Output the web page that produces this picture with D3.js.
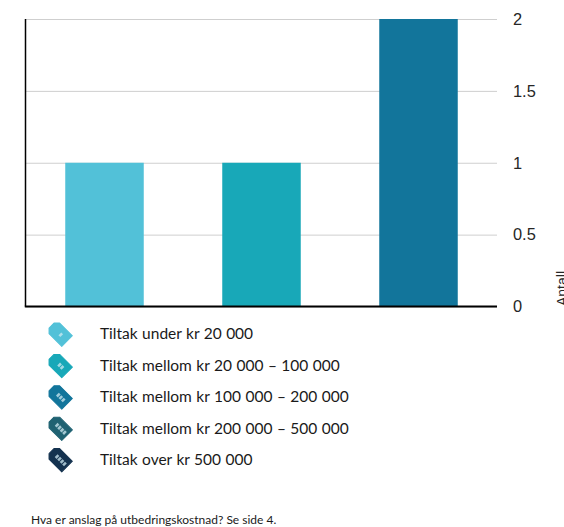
<!DOCTYPE html>
<html>
<head>
<meta charset="utf-8">
<script src="https://cdn.jsdelivr.net/npm/d3@7"></script>
<style>
    html, body { margin: 0; padding: 0; background: #fff; overflow: hidden; }
    .tick-label { font-family: "Liberation Sans", Arial, sans-serif; font-size: 16.4px; fill: #262626; }
    .legend-label { font-family: Lato, sans-serif; font-size: 15.5px; word-spacing: 0.5px; fill: #1a1a1a; }
    .footnote { font-family: Lato, sans-serif; font-size: 12px; fill: #1a1a1a; }
</style>
</head>
<body>
<div id="chart"></div>
<script>
const categories = ["Tiltak under kr 20 000", "Tiltak mellom kr 20 000 – 100 000", "Tiltak mellom kr 100 000 – 200 000"];
const values = [1, 1, 2];
const barColors = ["#52c1d8", "#18a8b8", "#12759b"];
const tickValues = [0, 0.5, 1, 1.5, 2];
const legendLabels = [
    "Tiltak under kr 20 000",
    "Tiltak mellom kr 20 000 – 100 000",
    "Tiltak mellom kr 100 000 – 200 000",
    "Tiltak mellom kr 200 000 – 500 000",
    "Tiltak over kr 500 000"
];
const legendColors = ["#52c1d8", "#18a8b8", "#12759b", "#1f6272", "#14324f"];
const legendDots = [1, 2, 3, 4, 4];
const yAxisTitle = "Antall";
const footnote = "Hva er anslag på utbedringskostnad? Se side 4.";

const WIDTH = 564;
const HEIGHT = 527;
const PLOT_LEFT = 26;
const PLOT_RIGHT = 497;
const PLOT_TOP = 19;
const PLOT_BOTTOM = 306.5;

let svg = d3.select("#chart")
    .append("svg")
    .attr("width", WIDTH)
    .attr("height", HEIGHT)
    .style("display", "block");

let xScale = d3.scaleBand()
    .domain(categories)
    .range([PLOT_LEFT, PLOT_RIGHT])
    .paddingInner(0.5)
    .paddingOuter(0.25);

let yScale = d3.scaleLinear()
    .domain([0, 2])
    .range([PLOT_BOTTOM, PLOT_TOP]);

// Gridlines and tick labels, on the right side
let yAxis = svg.append("g")
    .attr("transform", "translate(" + PLOT_RIGHT + ",0)")
    .call(d3.axisRight(yScale)
        .tickValues(tickValues)
        .tickSize(-(PLOT_RIGHT - PLOT_LEFT))
        .tickPadding(16)
        .tickFormat(d3.format("~g")));

yAxis.select(".domain").remove();
yAxis.selectAll("line").attr("stroke", "#cfcfcf").attr("stroke-width", 1);
yAxis.selectAll("text")
    .attr("class", "tick-label")
    .attr("font-family", null)
    .attr("font-size", null);

// Bars
svg.append("g")
    .selectAll("rect")
    .data(values)
    .enter()
    .append("rect")
    .attr("x", (d, i) => xScale(categories[i]))
    .attr("y", (d) => yScale(d))
    .attr("width", xScale.bandwidth())
    .attr("height", (d) => PLOT_BOTTOM - yScale(d))
    .attr("fill", (d, i) => barColors[i]);

// Black axis lines
svg.append("line")
    .attr("x1", PLOT_LEFT - 0.5)
    .attr("x2", PLOT_LEFT - 0.5)
    .attr("y1", PLOT_TOP)
    .attr("y2", PLOT_BOTTOM)
    .attr("stroke", "#000")
    .attr("stroke-width", 1.5);

svg.append("line")
    .attr("x1", PLOT_LEFT - 1.2)
    .attr("x2", PLOT_RIGHT)
    .attr("y1", PLOT_BOTTOM)
    .attr("y2", PLOT_BOTTOM)
    .attr("stroke", "#000")
    .attr("stroke-width", 2);

// Axis title, runs off the right edge like the original
svg.append("text")
    .attr("class", "tick-label")
    .attr("transform", "translate(567,306)rotate(-90)")
    .style("font-size", "14px")
    .text(yAxisTitle);

// Legend with price tag icons
let legendY = d3.scalePoint()
    .domain(legendLabels)
    .range([334, 459.5]);

let legendRows = svg.append("g")
    .selectAll("g")
    .data(legendLabels)
    .enter()
    .append("g")
    .attr("transform", (d) => "translate(0," + legendY(d) + ")");

legendRows.append("text")
    .attr("class", "legend-label")
    .attr("x", 100)
    .attr("dy", "0.35em")
    .text((d) => d);

// Narrow end of the tag points up and to the left
let tags = legendRows.append("g")
    .attr("transform", "translate(60,0)rotate(45)");

tags.append("path")
    .attr("d", "M-12,-3.5 L-8,-7.5 L10,-7.5 L10,7.5 L-8,7.5 L-12,3.5 Z")
    .attr("stroke-linejoin", "round")
    .attr("stroke-width", 1)
    .attr("stroke", (d, i) => legendColors[i])
    .attr("fill", (d, i) => legendColors[i]);

tags.each(function (d, i) {
    let count = legendDots[i];
    let dotX = d3.scalePoint()
        .domain(d3.range(count))
        .range(count > 1 ? [-3.5 * (count - 1) / 2, 3.5 * (count - 1) / 2] : [0, 0]);
    d3.select(this).selectAll("rect")
        .data(d3.range(count))
        .enter()
        .append("rect")
        .attr("x", (k) => dotX(k) - 0.2)
        .attr("y", -2)
        .attr("width", 2.6)
        .attr("height", 4)
        .attr("fill", "#cfeaf2")
        .attr("opacity", 0.75);
});

// Footnote
svg.append("text")
    .attr("class", "footnote")
    .attr("x", 31)
    .attr("y", 524)
    .text(footnote);
</script>
</body>
</html>
